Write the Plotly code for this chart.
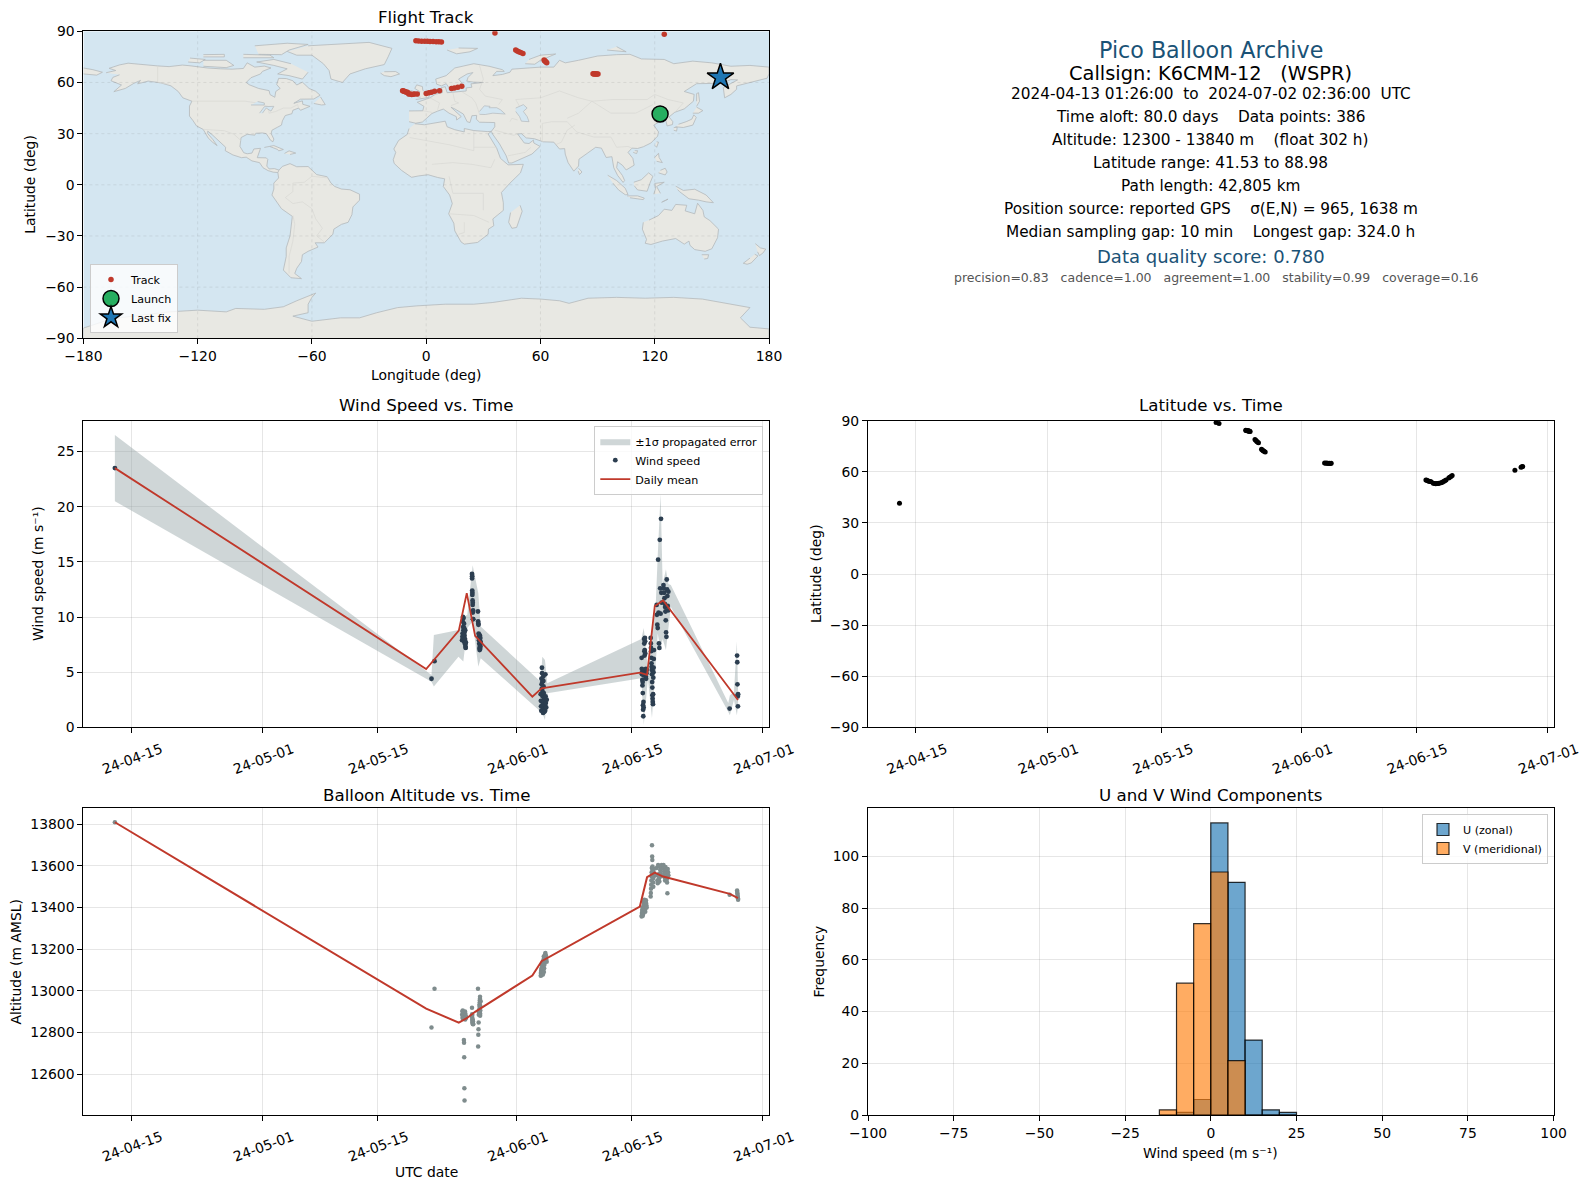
import pandas as pd
import plotly.graph_objects as go

W, H = 1588, 1189

# --- land outlines (lon, lat) ---
north_america = [(-168.1,65.7),(-164,66.5),(-163,67),(-166.5,68.3),(-161,70.3),(-156.5,71.3),(-150,70.5),(-141,69.7),(-135,69.3),(-128,70.2),(-124,69.8),(-115,68.5),(-108,68),(-102,67.8),(-96,68.2),(-94,71.5),(-90,69),(-85,69.6),(-81.5,68.5),(-86,66.5),(-87,65),(-92,62.8),(-94.5,60),(-93,58.7),(-88,56.5),(-82.5,55.2),(-82,52.9),(-79.5,51.3),(-79,54.7),(-76.7,56.5),(-78.5,58.8),(-77.5,62.4),(-73.5,62.3),(-70,61),(-68,58.5),(-65,60.2),(-61.5,56.5),(-58,54.8),(-55.7,52.5),(-59,50.3),(-66,50.2),(-69.5,47.8),(-65,49.2),(-64.8,47.2),(-61,46),(-63.5,44.7),(-66,43.7),(-67,45),(-70,43.7),(-70.5,41.7),(-74,40.6),(-75.5,37.5),(-76,35),(-78,33.8),(-81,32),(-81.4,30),(-80,26.8),(-80.5,25.2),(-81.8,26.2),(-82.8,28),(-84,30),(-86,30.4),(-89.5,30.2),(-90,29.1),(-94,29.6),(-97.2,27.7),(-97.5,25),(-97.8,22.5),(-95.8,18.8),(-94,18.2),(-91.5,18.6),(-90.5,21),(-87,21.4),(-87.7,18.5),(-88.7,15.9),(-84,15.8),(-83.2,14.9),(-83.7,11),(-82.5,9.3),(-79.7,9.5),(-77.3,8.6),(-77.9,7.2),(-80.3,7.4),(-83,8.3),(-85.7,10),(-87.5,13),(-91.5,14),(-94.5,16.2),(-97,15.9),(-101.5,17.5),(-105.5,20),(-105.3,22),(-108.5,25.5),(-112.5,29.5),(-114.7,31.5),(-114.7,30),(-112,26.5),(-109.8,23),(-112,24.8),(-114.5,27.5),(-117.1,32.5),(-120.6,34.5),(-122.5,37.7),(-124.3,40.3),(-124.3,46.2),(-123,49),(-127.8,51),(-130.2,54.7),(-134,58),(-139.5,59.8),(-146,60.8),(-151.5,59.2),(-150,61.2),(-153.5,59.5),(-158,56.5),(-164,54.6),(-160,58.5),(-162,59.5),(-165.5,61),(-164.5,63),(-161,64.5)]
baffin = [(-62,66),(-65,62),(-72,64),(-78,65),(-73,68),(-80,70),(-89,72),(-80,73.5),(-71,71)]
victoria = [(-117,69.5),(-105,68.7),(-101,70),(-105,73),(-117,73)]
ellesmere = [(-88,76.5),(-76,76.3),(-72,79),(-62,82.3),(-73,83),(-90,81.5)]
banks = [(-125,72),(-119,71.5),(-116,73.5),(-124,74.3)]
devon = [(-96,74.5),(-80,74.5),(-82,76),(-96,76.5)]
melville = [(-117,75),(-106,75),(-106,76.5),(-117,76.3)]
newfoundland = [(-59,47.7),(-55,46.8),(-53,47),(-55.5,51.5)]
cuba = [(-85,21.9),(-80,23),(-75,20.7),(-77.5,19.9),(-78,20.7),(-82,22.4)]
hispaniola = [(-74.4,18.4),(-72,19.9),(-68.5,18.6),(-71.5,17.8)]
greenland = [(-73,78.2),(-68,76),(-60,76),(-54,71),(-51,67),(-50,62),(-44,60),(-40,65),(-32,68),(-22,70.5),(-20,75),(-18,80),(-30,83.5),(-45,82.5),(-62,81.5)]
iceland = [(-24,65.5),(-22,64),(-18.5,63.4),(-14,65),(-16,66.4),(-22,66.3)]
south_america = [(-77.3,8.6),(-75.5,10.8),(-71.5,12.4),(-68,10.6),(-62,10.7),(-57.5,6),(-52,4.7),(-50,1),(-48,-1),(-44.5,-2.5),(-40,-2.9),(-35,-5.5),(-35,-9),(-38.5,-13),(-39,-17.5),(-41,-22),(-44.5,-23.2),(-48.5,-26),(-49,-29),(-53.5,-34),(-58.3,-34),(-56.8,-36.5),(-62,-39),(-65,-41),(-65.5,-45),(-68,-49),(-69,-52),(-65.5,-55),(-71,-54.5),(-75,-50),(-73.5,-42),(-73.5,-37),(-71.5,-30),(-70.3,-18.5),(-76,-14),(-81,-6),(-80,-2.5),(-80,1),(-77.5,4),(-77.9,7.2)]
africa = [(-5.9,35.8),(-1,35.2),(10,37.3),(11,34),(15,32.3),(20,31),(20,33),(25,31.8),(32,31.2),(34.2,31.3),(32.5,29.8),(34,27),(37,21.5),(39,15.5),(43,11.7),(51,12),(49.5,7),(44,1),(39.5,-4.5),(40.5,-10.5),(40.5,-15),(35,-20),(35.5,-24),(32.7,-26),(32.5,-29),(27,-33.8),(20,-34.8),(18.3,-33.5),(15,-27),(14.5,-22.5),(11.8,-17),(13.7,-11),(12.3,-6),(9,-1),(9.7,3.5),(6,4.3),(1,5.9),(-4,5.2),(-7.7,4.4),(-13,8.5),(-16.8,12.5),(-17.3,14.7),(-16,19),(-17,21),(-14.5,26),(-10,29.5),(-9,33)]
madagascar = [(49.3,-12),(50.4,-15.5),(47.5,-25),(45,-25.5),(43.3,-22),(44.3,-16.3)]
eurasia = [(-9,37),(-5.5,36.1),(-2,36.8),(0,39),(3,41.8),(6,43.2),(9,44.4),(12,42),(15.8,40),(16,38),(18.4,40),(13,45.5),(15,44.5),(19.5,41.5),(21.5,37),(23,36.5),(24,40.5),(26.5,40.7),(26.3,38.5),(28,36.7),(31,36.6),(36,36.5),(36,34),(34.2,31.3),(35,29.5),(38.5,24),(42,17),(43.3,12.8),(45,12.8),(52,16),(55.5,18),(59.8,22.5),(56.5,24.5),(56.3,26.2),(54,24.2),(51.5,24.5),(50.2,26.5),(48,29.8),(50,30),(52.5,27.5),(56.8,27),(61.5,25.2),(67,25),(68,23.5),(70,21),(72.7,21.2),(73,18),(74.5,13),(77.5,8),(80,11),(80.2,15),(86.5,20),(89,22),(92,21.5),(94.5,16),(97.5,16.5),(98.5,10),(100.5,5.5),(103.4,1.4),(104.2,2.5),(103,5.5),(100,10),(100.5,13.5),(103,11.5),(105,8.7),(109.2,11.5),(108.5,15.5),(106,19),(108,21.5),(111,21.3),(114,22.3),(118,24.5),(121.5,28.5),(122,31),(119.5,35),(122.5,37),(119,39),(121.5,40.8),(124.5,39.8),(126,37),(126.5,34.5),(129.3,35.3),(129.5,37),(127.5,39.8),(130.5,42.5),(135.5,44.5),(140.3,49),(140.7,53),(135.5,54.7),(142,59.3),(150,59.5),(155,59.5),(160,61.7),(163.5,61.5),(156,57),(156.7,51),(160,53),(163,56),(163,58),(170,60),(179,62.5),(180,65),(180,69),(170,70),(160,69.5),(150,71.5),(140,72.5),(130,71),(125,73.5),(113,73.8),(107,76.5),(100,76.3),(90,75.5),(80,73),(73,71.5),(70,73),(67,69),(60,69),(54,68.5),(45,67.8),(44,66),(40,64.7),(35,64),(37,66.5),(41,66.5),(40,67.5),(33,69.5),(25,71),(15,68.5),(10.5,64),(5,62),(5.5,59),(8,58),(10.5,59.3),(12.5,56),(14,55.5),(16.5,56.5),(18.5,60),(17,62),(21.5,65),(24.5,65.8),(22,63),(21.3,60.8),(25,60.2),(30,60),(26,59.5),(23.5,59.2),(24,57.2),(21,56.8),(21,55),(18,54.7),(14,54),(11,54),(10,57.5),(8,57),(8.5,54),(5,53.2),(2,51),(-1.5,49.7),(-4.7,48.4),(-1.2,46),(-1.8,43.4),(-9,43.3)]
chukotka = [(-180,68.5),(-175,67.5),(-170,66),(-173,64.3),(-180,65)]
britain = [(-5.5,50),(1.3,51.2),(1.7,52.8),(0,53.5),(-1.8,55.5),(-2,57.6),(-5,58.6),(-6,56.5),(-3.2,54.5),(-4.5,53.3),(-5.2,51.8),(-3,51.4)]
ireland = [(-10,52),(-6.2,52.2),(-6,54.5),(-8,55.2),(-10,54)]
svalbard = [(11,79),(16,76.8),(23,78),(27,80),(17,80.2)]
novaya_zemlya = [(52,71),(57,70.7),(60,73),(68,76.7),(60,76),(54,73.5)]
severnaya = [(95,79),(105,78),(100,81)]
honshu = [(130.9,34),(135,33.6),(140,35),(141.8,39.5),(140.5,41),(139.5,38.5),(136.5,37),(132.5,35.5)]
hokkaido = [(140,42),(143,42),(145.3,43.5),(142,45.5)]
kyushu = [(130,32),(131.5,31.5),(131.8,33.8),(130,33.5)]
sakhalin = [(142,46),(143.5,49),(143,54),(142,53.5),(142,49)]
taiwan = [(120.2,23),(121,22),(122,25),(121,25.2)]
hainan = [(108.7,19),(110.5,18.3),(111,20),(109.5,20)]
sri_lanka = [(80,9.7),(81.8,7.5),(80.5,6),(79.8,8)]
luzon = [(120,16),(122,18.5),(122.3,16),(124,13),(121,13.8)]
mindanao = [(122,7),(125.5,5.8),(126.5,7.5),(125.5,9.7),(123,8.5)]
sumatra = [(95.3,5.6),(100,2.5),(104.5,-2),(106,-5.8),(104.5,-5.8),(101,-3),(98,1)]
java = [(105.5,-6.5),(111,-6.5),(114.5,-7.8),(114,-8.7),(107,-7.6)]
borneo = [(109,1.5),(113,3),(116.8,7),(119,5),(117.5,1),(116,-3.8),(111,-3),(109.2,-0.5)]
sulawesi = [(119.5,-5.5),(120.5,-2),(120,0.8),(125,1.5),(121,-1),(123,-5)]
new_guinea = [(131,-0.8),(135,-3.3),(141,-2.6),(147,-6),(150.8,-10.5),(147,-10),(143,-9),(138,-8.2),(133,-4),(132,-2.8)]
timor = [(124,-10),(127,-8.4),(123.5,-10.3)]
australia = [(114,-22),(113.5,-26),(115.7,-32),(115,-34.3),(118,-35),(124,-33),(131,-31.5),(135.5,-34.8),(138,-33),(138.5,-35.5),(141,-38),(146.5,-39),(150,-37.5),(153,-31),(153.5,-26),(149,-21),(146,-18.8),(145.3,-15),(142.5,-10.8),(141,-17),(136,-15.3),(136.8,-12),(131,-11.5),(129,-15),(125,-14.3),(122,-18),(117,-20.7)]
tasmania = [(144.7,-41),(148.3,-41),(147.8,-43.2),(146,-43.5)]
nz_north = [(172.8,-34.5),(175.5,-37),(178.3,-37.7),(176.8,-40),(175,-41.5),(174,-39.3)]
nz_south = [(172.5,-40.7),(174.2,-41.7),(170.7,-45.8),(168.5,-46.6),(166.5,-46),(170,-43)]
antarctica = [(-180,-90),(-180,-84),(-165,-78.5),(-150,-76.5),(-135,-74.5),(-120,-73.5),(-105,-74.5),(-100,-72.5),(-85,-73),(-75,-71.5),(-68,-68),(-58,-63.5),(-60,-66),(-62,-70),(-62,-75),(-70,-77),(-60,-80),(-45,-78),(-35,-78),(-26,-75),(-15,-72),(-5,-71),(10,-70),(25,-70),(35,-69),(50,-66.5),(60,-67),(70,-68),(75,-69.5),(85,-66.5),(100,-66),(115,-66.5),(130,-66),(145,-67),(160,-70),(170,-72),(165,-78),(170,-83.5),(180,-84.5),(180,-90)]
land = [north_america, baffin, victoria, ellesmere, banks, devon, melville, newfoundland, cuba, hispaniola,
        greenland, iceland, south_america, africa, madagascar, eurasia, chukotka, britain, ireland, svalbard,
        novaya_zemlya, severnaya, honshu, hokkaido, kyushu, sakhalin, taiwan, hainan, sri_lanka, luzon, mindanao,
        sumatra, java, borneo, sulawesi, new_guinea, timor, australia, tasmania, nz_north, nz_south, antarctica]

black_sea = [(28,41.3),(31,41.2),(35,42),(41.5,41.5),(39,44),(37,45.2),(33,45.2),(33.5,46),(30.5,46.3),(28,43)]
caspian = [(47,45),(51,47),(53,45),(51,43),(53,40),(54,37),(50,37.3),(49,40),(47,43)]
superior = [(-92,46.8),(-85,46.8),(-85,48),(-88.5,48.8)]
huron = [(-87.5,42),(-85,45.8),(-80,46),(-81.5,43.2),(-84,45),(-86,42)]
water = [black_sea, caspian, superior, huron]

borders = [
    [(-123,49),(-95,49),(-89,48),(-83,46),(-82.5,42),(-79,43),(-75,45),(-71,45),(-67.5,47),(-67,45)],
    [(-141,69.7),(-141,60),(-135,59)],
    [(-117,32.5),(-108,31.5),(-106,31.7),(-101,29.7),(-97.3,26)],
    [(-51.5,4),(-60,5),(-64,1.5),(-70,1),(-70,-4),(-74,-7.5),(-70,-11),(-65,-10),(-60,-14),(-58,-20),(-54.5,-25.5),(-57.5,-30),(-53.5,-33.5)],
    [(-70,-18),(-69,-23),(-70,-33),(-72,-42),(-72,-52)],
    [(-8.7,27.7),(12,23.5),(25,20),(25,31.5)],
    [(25,22),(37,22)],
    [(3,12),(14,13),(24,12),(34,10),(36,15)],
    [(12,5),(14,-5),(30,-5),(30,-15)],
    [(12,-17),(25,-18),(33,-22)],
    [(20,-22),(20,-28),(17,-29)],
    [(28,41.5),(26,48),(24,51),(19,54.3)],
    [(2,51),(7,48),(6,44)],
    [(-1.8,43.4),(3,42.5)],
    [(14,54),(15,49),(17,48),(13,46.5)],
    [(28,70),(30,62),(28,56),(31,52),(40,50),(38,47)],
    [(47.5,42),(49,46),(47,50),(60,51),(70,55),(80,51),(87,49),(98,50),(106,50),(116,50),(120,53),(127,50),(135,48),(131,43)],
    [(74,39),(80,42),(87,49)],
    [(74,37),(79,31),(88,28),(97,28),(100,22),(106,22.5),(108,21.5)],
    [(44,37),(45,39),(48,38)],
    [(61,25),(61,36),(66,37),(74,37)],
    [(68,23.5),(71,25),(74,32),(78,35)],
    [(36,32),(46,29),(48,30)],
    [(43,17),(52,19),(55,22)],
    [(87,49),(97,42),(110,42),(119,47)],
]

# --- track, days are counted from 2024-06-01 ---
track_days = [-49.0,-10.39,-10.03,-6.78,-6.72,-6.66,-6.6,-6.54,-6.48,-6.42,-6.36,-6.3,-6.24,-5.65,-5.55,-5.45,-5.35,-5.22,-4.85,-4.75,-4.65,-4.55,-4.4,
              2.84,2.98,3.12,3.26,3.4,3.55,3.65,15.2,15.3,15.42,15.55,15.7,15.83,16.1,16.25,16.4,16.55,16.7,16.8,17.05,17.2,17.35,17.5,17.65,17.98,18.1,18.25,18.4,26.05,26.8,26.9,27.0]
track_lat = [41.53,88.98,88.3,84.4,84.3,84.2,84.1,84.1,84.0,84.0,83.9,83.8,83.7,79.0,78.5,78.0,77.5,77.0,73.2,72.8,72.4,72.0,71.6,
             65.1,65.0,65.1,64.9,65.0,64.9,65.0,55.2,55.0,54.8,54.5,54.3,54.2,53.3,53.2,53.0,53.1,53.2,53.3,53.5,53.9,54.3,54.8,55.2,56.4,56.8,57.2,57.8,60.9,62.7,63.0,63.1]
track_lon = [122.8,36.1,125.0,-5.4,-4.0,-2.4,-0.8,0.6,2.0,3.6,5.2,6.6,8.0,47.0,47.8,48.6,49.6,50.8,61.9,62.2,62.5,62.9,63.3,
             87.6,88.0,88.4,88.8,89.2,89.7,90.2,-12.4,-12.0,-11.5,-11.0,-10.4,-9.8,-9.2,-8.4,-7.6,-6.8,-6.0,-4.7,0.0,1.4,2.8,4.4,7.0,13.3,14.8,16.6,18.7,154.0,154.5,154.5,154.5]
launch_lon, launch_lat = [122.8], [41.53]
last_lon, last_lat = [154.5], [63.0]

# --- wind speed and altitude per cluster ---
days_c0 = [-49.0, -10.39, -10.02]
wind_c0 = [23.5, 4.4, 6.0]
alt_c0 = [13810, 12823, 13010]

days_c1 = [-6.66,-6.62,-6.6,-6.58,-6.55,-6.52,-6.5,-6.48,-6.46,-6.44,-6.42,-6.4,-6.38,-6.36,-6.34,-6.32,-6.3,-6.28,-6.26,-6.24,-6.22,-6.2]
wind_c1 = [7.9,8.2,8.5,9.6,10.0,9.1,8.8,9.9,8.4,7.8,9.4,9.0,8.6,8.3,7.9,7.6,8.0,8.8,7.5,7.3,7.2,7.7]
alt_c1 = [12885,12900,12870,12905,12865,12890,12875,12895,12880,12764,12750,12680,12531,12473,12885,12870,12900,12862,12890,12880,12868,12875]

days_c2 = [-5.45,-5.44,-5.43,-5.42,-5.41,-5.4,-5.38,-5.37,-5.36,-5.35,-5.33,-5.32,-5.3]
wind_c2 = [13.9,13.5,13.7,12.4,12.0,12.2,11.5,11.1,11.3,10.4,9.8,10.6,9.8]
alt_c2 = [12919,12887,12880,12870,12862,12855,12848,12845,12840,12860,12852,12842,12839]

days_c3 = [-4.72,-4.7,-4.68,-4.66,-4.64,-4.62,-4.6,-4.58,-4.56,-4.54,-4.52,-4.5,-4.49,-4.48,-4.47,-4.46,-4.45,-4.44,-4.42,-4.4]
wind_c3 = [10.5,9.6,9.4,9.3,8.5,8.2,7.9,8.4,7.6,7.2,7.0,8.0,7.5,8.3,7.4,7.1,7.8,8.1,7.3,7.7]
alt_c3 = [13010,12732,12789,12815,12847,12885,12895,12900,12911,12927,12935,12945,12955,12962,12971,12880,12890,12905,12925,12950]

days_c4 = [2.93,2.95,2.97,3.0,3.02,3.04,3.06,3.08,3.1,3.12,3.14,3.16,3.18,3.2,3.22,3.24,3.26,3.28,3.3,3.32,3.35,3.38,3.41,3.44,3.47,3.5,3.53,3.56,3.6,3.66]
wind_c4 = [3.0,2.4,1.9,1.5,4.4,3.9,3.5,5.4,4.9,4.1,3.3,2.8,2.1,1.6,1.3,4.6,4.2,3.7,3.1,2.5,1.9,1.4,2.7,2.0,1.5,4.8,2.8,2.2,1.8,2.5]
alt_c4 = [13072,13085,13095,13105,13075,13090,13110,13125,13080,13100,13115,13130,13140,13078,13095,13120,13135,13150,13165,13090,13108,13125,13145,13160,13175,13182,13165,13170,13150,13140]

days_c5 = [15.24,15.26,15.28,15.3,15.32,15.34,15.36,15.38,15.4,15.42,15.44,15.46,15.48,15.5,15.52,15.54,15.56,15.58,15.6,15.62,15.64,15.66,15.68,15.7,15.72,15.74,15.76,15.78,15.82,15.85]
wind_c5 = [6.3,5.3,4.8,5.0,4.3,3.8,4.1,3.1,2.0,1.6,1.0,2.3,1.8,4.7,5.2,8.0,7.6,6.9,6.5,7.0,8.1,7.8,6.7,5.1,4.9,4.6,5.3,4.4,4.9,5.2]
alt_c5 = [13357,13362,13370,13378,13385,13392,13400,13360,13368,13376,13385,13394,13402,13410,13417,13425,13432,13437,13425,13412,13400,13390,13380,13405,13415,13425,13435,13420,13410,13400]

days_c6 = [16.34,16.36,16.38,16.4,16.42,16.44,16.46,16.48,16.5,16.52,16.54,16.56,16.58,16.6,16.62,16.64,16.66,16.68,16.7,16.72,16.74]
wind_c6 = [8.1,7.6,7.2,6.9,6.3,5.8,5.5,5.2,4.8,4.1,3.6,2.9,2.6,2.3,2.1,3.0,4.5,5.0,5.4,6.2,7.0]
alt_c6 = [13453,13470,13490,13510,13530,13550,13570,13590,13700,13645,13629,13597,13580,13560,13540,13520,13500,13555,13570,13585,13550]

days_c7 = [17.07,17.1,17.15,17.2,17.25,17.3,17.35,17.4,17.45,17.5,17.55,17.6,17.64,17.68]
wind_c7 = [11.1,10.2,9.3,9.0,15.2,10.4,7.6,7.2,17.0,12.6,10.3,18.9,12.2,11.3]
alt_c7 = [13590,13555,13530,13517,13605,13560,13540,13525,13598,13580,13565,13550,13590,13605]

days_c8 = [17.9,17.94,17.98,18.02,18.06,18.1,18.14,18.18,18.22,18.26,18.3,18.34,18.38,18.42,18.46,18.5]
wind_c8 = [12.9,12.6,12.2,11.7,11.2,10.9,10.5,9.7,8.6,8.2,13.4,12.5,11.9,11.0,10.6,12.3]
alt_c8 = [13605,13590,13575,13560,13545,13530,13595,13580,13565,13550,13535,13520,13469,13585,13570,13555]

days_c9 = [25.97,26.88,26.9,26.92,26.94,26.96,26.98,27.0]
wind_c9 = [1.7,6.5,5.9,3.9,2.9,2.8,1.9,3.0]
alt_c9 = [13461,13482,13475,13468,13460,13452,13445,13437]

# --- daily means ---
mean_days = [-49.0,-11.04,-7.06,-6.09,-5.07,1.91,3.04,15.02,15.9,16.84,17.86,25.99,26.99]
mean_wind = [23.5,5.29,8.77,12.16,8.29,2.78,3.54,4.96,4.75,11.0,11.49,3.45,2.48]
mean_alt = [13810,12914,12847,12868,12899,13073,13142,13405,13546,13568,13549,13466,13445]

# --- propagated error band ---
band_days = [-49.0,-10.39,-10.1,-7.1,-6.51,-6.02,-5.37,-4.68,-4.39,2.93,3.12,3.45,3.73,15.2,15.5,16.0,16.5,16.95,17.2,17.55,17.8,18.2,18.5,18.8,25.8,26.0,26.5,26.85,27.0]
band_upper = [26.5,4.75,8.37,8.83,10.0,10.2,14.7,12.15,9.13,4.14,6.4,6.1,4.0,8.0,9.0,5.2,8.6,11.0,15.6,21.2,13.0,14.3,13.0,12.9,2.2,2.9,3.2,7.8,3.3]
band_lower = [20.5,4.14,3.7,6.4,5.96,9.0,9.6,5.5,6.26,1.42,1.3,0.67,3.08,4.45,0.2,4.4,0.85,6.0,8.5,7.0,8.0,7.0,9.0,10.9,1.4,1.1,2.5,1.1,2.0]

# --- histogram counts, 5 m/s bins ---
bin_centers = [-12.5,-7.5,-2.5,2.5,7.5,12.5,17.5,22.5]
u_counts = [0,1,6,113,90,29,2,1]
v_counts = [2,51,74,94,21,0,0,0]

date_ticks = ["2024-04-15","2024-05-01","2024-05-15","2024-06-01","2024-06-15","2024-07-01"]
date_labels = ["24-04-15","24-05-01","24-05-15","24-06-01","24-06-15","24-07-01"]
lon_ticks = [-180,-120,-60,0,60,120,180]
lat_ticks = [-90,-60,-30,0,30,60,90]

info_lines = [
    ("Pico Balloon Archive", 1210.8, 50, 22.2, "#1a5276"),
    ("Callsign: K6CMM-12\u00a0\u00a0\u00a0(WSPR)", 1210.8, 73.3, 19.4, "black"),
    ("2024-04-13 01:26:00\u00a0\u00a0to\u00a0\u00a02024-07-02 02:36:00\u00a0\u00a0UTC", 1210.8, 94.3, 15.3, "black"),
    ("Time aloft: 80.0 days\u00a0\u00a0\u00a0\u00a0Data points: 386", 1210.8, 117.3, 15.3, "black"),
    ("Altitude: 12300 - 13840 m\u00a0\u00a0\u00a0\u00a0(float 302 h)", 1210.8, 140.3, 15.3, "black"),
    ("Latitude range: 41.53 to 88.98", 1210.8, 163.3, 15.3, "black"),
    ("Path length: 42,805 km", 1210.8, 186.3, 15.3, "black"),
    ("Position source: reported GPS\u00a0\u00a0\u00a0\u00a0σ(E,N) = 965, 1638 m", 1210.8, 209.3, 15.3, "black"),
    ("Median sampling gap: 10 min\u00a0\u00a0\u00a0\u00a0Longest gap: 324.0 h", 1210.8, 232.3, 15.3, "black"),
    ("Data quality score: 0.780", 1210.8, 256.7, 18.0, "#1a5276"),
    ("precision=0.83\u00a0\u00a0\u00a0cadence=1.00\u00a0\u00a0\u00a0agreement=1.00\u00a0\u00a0\u00a0stability=0.99\u00a0\u00a0\u00a0coverage=0.16", 1216, 278, 12.5, "#555555"),
]

FONT = "DejaVu Sans"
RED = "#c0392b"
GRID = "rgba(128,128,128,0.2)"
LEFT = [83.4, 769.0]
RIGHT = [868.0, 1553.6]
ROW1 = [31.3, 338.3]
ROW2 = [420.7, 727.3]
ROW3 = [808.3, 1115.0]


def to_dates(days):
    return pd.Timestamp("2024-06-01") + pd.to_timedelta(days, unit="D")


def flatten(shapes):
    xs, ys = [], []
    for s in shapes:
        xs += [p[0] for p in s] + [None]
        ys += [p[1] for p in s] + [None]
    return xs, ys


def xdom(px):
    return [px[0] / W, px[1] / W]


def ydom(px):
    return [1 - px[1] / H, 1 - px[0] / H]


def axis(dom, anchor, **kw):
    base = dict(domain=dom, anchor=anchor, automargin=False, showline=True, linecolor="black", linewidth=1.1,
                mirror=True, ticks="outside", ticklen=5, tickwidth=1.1, tickcolor="black", showgrid=True,
                gridcolor=GRID, gridwidth=1.1, zeroline=False, tickformat="d",
                tickfont=dict(family=FONT, size=13.9, color="black"))
    base.update(kw)
    return base


def date_axis(dom, anchor):
    return axis(dom, anchor, type="date", range=["2024-04-09 03:50", "2024-07-01 18:29"], tickmode="array",
                tickvals=date_ticks, ticktext=date_labels, tickangle=-20, ticklabelshift=30,
                ticklabelstandoff=3, tickformat=None)


def legend_box(x, y, xanchor, yanchor):
    return dict(x=x / W, y=1 - y / H, xanchor=xanchor, yanchor=yanchor, bgcolor="rgba(255,255,255,0.8)",
                bordercolor="#cccccc", borderwidth=1, font=dict(family=FONT, size=11.1, color="black"),
                tracegroupgap=0, traceorder="normal")


wind_days = days_c0 + days_c1 + days_c2 + days_c3 + days_c4 + days_c5 + days_c6 + days_c7 + days_c8 + days_c9
wind_speed = wind_c0 + wind_c1 + wind_c2 + wind_c3 + wind_c4 + wind_c5 + wind_c6 + wind_c7 + wind_c8 + wind_c9
alt_m = alt_c0 + alt_c1 + alt_c2 + alt_c3 + alt_c4 + alt_c5 + alt_c6 + alt_c7 + alt_c8 + alt_c9

fig = go.Figure()

# map
land_x, land_y = flatten(land)
fig.add_trace(go.Scatter(x=land_x, y=land_y, mode="lines", fill="toself", fillcolor="#e8e8e3",
                         line=dict(color="#b4b9bb", width=0.8), hoverinfo="skip", showlegend=False,
                         xaxis="x", yaxis="y"))
border_x, border_y = flatten(borders)
fig.add_trace(go.Scatter(x=border_x, y=border_y, mode="lines", line=dict(color="#d8d8d4", width=0.7),
                         hoverinfo="skip", showlegend=False, xaxis="x", yaxis="y"))
water_x, water_y = flatten(water)
fig.add_trace(go.Scatter(x=water_x, y=water_y, mode="lines", fill="toself", fillcolor="#d4e6f1",
                         line=dict(color="#b4b9bb", width=0.7), hoverinfo="skip", showlegend=False,
                         xaxis="x", yaxis="y"))
fig.add_trace(go.Scatter(x=track_lon, y=track_lat, mode="markers", name="Track",
                         marker=dict(color=RED, size=5.5), xaxis="x", yaxis="y", legend="legend"))
fig.add_trace(go.Scatter(x=launch_lon, y=launch_lat, mode="markers", name="Launch", xaxis="x", yaxis="y",
                         marker=dict(color="#27ae60", size=16, line=dict(color="black", width=1.5))))
fig.add_trace(go.Scatter(x=last_lon, y=last_lat, mode="markers", name="Last fix", xaxis="x", yaxis="y",
                         marker=dict(color="#1f77b4", size=20, symbol="star", line=dict(color="black", width=1.5))))

# wind
fig.add_trace(go.Scatter(x=list(to_dates(band_days)) + list(to_dates(band_days))[::-1],
                         y=band_upper + band_lower[::-1], mode="lines", fill="toself",
                         fillcolor="rgba(149,165,166,0.45)", line=dict(width=0), name="±1σ propagated error",
                         xaxis="x2", yaxis="y2", legend="legend2"))
fig.add_trace(go.Scatter(x=to_dates(wind_days), y=wind_speed, mode="markers", name="Wind speed",
                         marker=dict(color="#2c3e50", size=4.8), xaxis="x2", yaxis="y2", legend="legend2"))
fig.add_trace(go.Scatter(x=to_dates(mean_days), y=mean_wind, mode="lines", name="Daily mean",
                         line=dict(color=RED, width=1.8), xaxis="x2", yaxis="y2", legend="legend2"))

# latitude
fig.add_trace(go.Scatter(x=to_dates(track_days), y=track_lat, mode="markers", showlegend=False,
                         marker=dict(color="black", size=5), xaxis="x3", yaxis="y3"))

# altitude
fig.add_trace(go.Scatter(x=to_dates(wind_days), y=alt_m, mode="markers", showlegend=False,
                         marker=dict(color="#7f8c8d", size=4.5), xaxis="x4", yaxis="y4"))
fig.add_trace(go.Scatter(x=to_dates(mean_days), y=mean_alt, mode="lines", showlegend=False,
                         line=dict(color=RED, width=2), xaxis="x4", yaxis="y4"))

# histogram
fig.add_trace(go.Bar(x=bin_centers, y=u_counts, width=5, name="U (zonal)", xaxis="x5", yaxis="y5", legend="legend3",
                     marker=dict(color="rgba(31,119,180,0.65)", line=dict(color="rgba(0,0,0,0.8)", width=1.2))))
fig.add_trace(go.Bar(x=bin_centers, y=v_counts, width=5, name="V (meridional)", xaxis="x5", yaxis="y5", legend="legend3",
                     marker=dict(color="rgba(255,127,14,0.65)", line=dict(color="rgba(0,0,0,0.8)", width=1.2))))

annotations = []


def add_text(text, x, y, size, color="black", angle=0):
    annotations.append(dict(text=text, x=x / W, y=1 - y / H, xref="paper", yref="paper", showarrow=False,
                            xanchor="center", yanchor="middle", textangle=angle,
                            font=dict(family=FONT, size=size, color=color)))


add_text("Flight Track", 426.2, 17.5, 16.67)
add_text("Wind Speed vs. Time", 426.2, 405.5, 16.67)
add_text("Latitude vs. Time", 1210.8, 405.5, 16.67)
add_text("Balloon Altitude vs. Time", 426.2, 795, 16.67)
add_text("U and V Wind Components", 1210.8, 795, 16.67)
add_text("Longitude (deg)", 426.2, 375, 13.9)
add_text("UTC date", 426.2, 1172, 13.9)
add_text("Wind speed (m s\u207b\u00b9)", 1210.8, 1153, 13.9)
add_text("Latitude (deg)", 30, 184.8, 13.9, angle=-90)
add_text("Wind speed (m s\u207b\u00b9)", 38, 574, 13.9, angle=-90)
add_text("Latitude (deg)", 816, 574, 13.9, angle=-90)
add_text("Altitude (m AMSL)", 16, 961.6, 13.9, angle=-90)
add_text("Frequency", 819, 961.6, 13.9, angle=-90)
for text, x, y, size, color in info_lines:
    add_text(text, x, y, size, color)

# ocean goes under the land, the dashed graticule on top of it
shapes = [dict(type="rect", xref="x", yref="y", x0=-180, x1=180, y0=-90, y1=90, fillcolor="#d4e6f1",
               line=dict(width=0), layer="below")]
for lon in lon_ticks[1:-1]:
    shapes.append(dict(type="line", xref="x", yref="y", x0=lon, x1=lon, y0=-90, y1=90, layer="above",
                       line=dict(color="rgba(110,110,110,0.2)", width=0.7, dash="dot")))
for lat in lat_ticks[1:-1]:
    shapes.append(dict(type="line", xref="x", yref="y", x0=-180, x1=180, y0=lat, y1=lat, layer="above",
                       line=dict(color="rgba(110,110,110,0.2)", width=0.7, dash="dot")))

fig.update_layout(
    width=W, height=H, autosize=False, margin=dict(l=0, r=0, t=0, b=0),
    paper_bgcolor="white", plot_bgcolor="white", barmode="overlay",
    font=dict(family=FONT, color="black"),
    annotations=annotations, shapes=shapes,
    xaxis=axis(xdom(LEFT), "y", range=[-180, 180], tickvals=lon_ticks, showgrid=False),
    yaxis=axis(ydom(ROW1), "x", range=[-90, 90], tickvals=lat_ticks, showgrid=False),
    xaxis2=date_axis(xdom(LEFT), "y2"),
    yaxis2=axis(ydom(ROW2), "x2", range=[0, 27.8], tickvals=[0, 5, 10, 15, 20, 25]),
    xaxis3=date_axis(xdom(RIGHT), "y3"),
    yaxis3=axis(ydom(ROW2), "x3", range=[-90, 90], tickvals=lat_ticks),
    xaxis4=date_axis(xdom(LEFT), "y4"),
    yaxis4=axis(ydom(ROW3), "x4", range=[12403, 13877], tickvals=[12600, 12800, 13000, 13200, 13400, 13600, 13800]),
    xaxis5=axis(xdom(RIGHT), "y5", range=[-100, 100], tickvals=[-100, -75, -50, -25, 0, 25, 50, 75, 100]),
    yaxis5=axis(ydom(ROW3), "x5", range=[0, 118.65], tickvals=[0, 20, 40, 60, 80, 100]),
    legend=legend_box(90, 333, "left", "bottom"),
    legend2=legend_box(763.3, 425.7, "right", "top"),
    legend3=legend_box(1548, 814, "right", "top"),
)

fig.write_html("out.html", post_script="document.body.style.margin='0';", config={"displayModeBar": False})
